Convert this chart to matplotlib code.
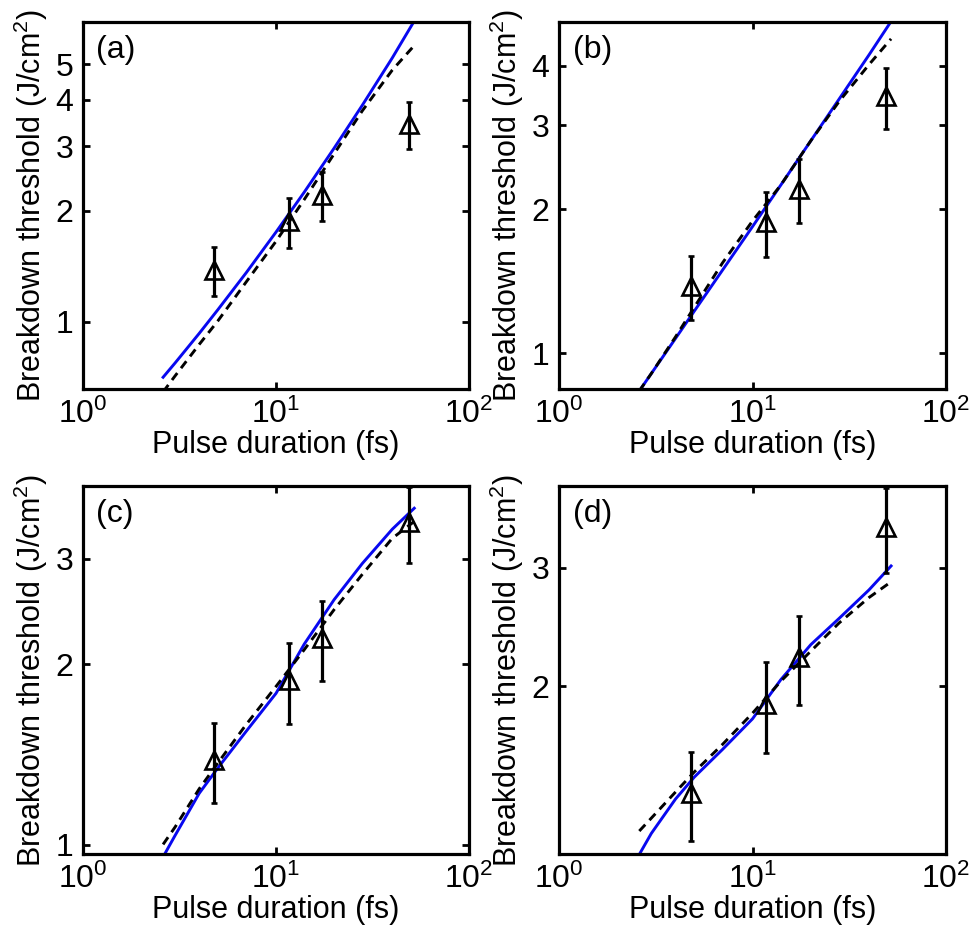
import matplotlib
matplotlib.use('Agg')
from matplotlib import pyplot as plt
from matplotlib.ticker import NullLocator, FixedLocator, FixedFormatter

plt.rcParams['font.family'] = ['Liberation Sans', 'DejaVu Sans']
plt.rcParams['mathtext.fontset'] = 'custom'
plt.rcParams['mathtext.rm'] = 'Liberation Sans'

# Measured breakdown thresholds (same in every panel)
pulse_exp = [4.8, 11.7, 17.4, 49.0]
thresh_exp = [1.385, 1.88, 2.21, 3.45]
thresh_err = [0.21, 0.29, 0.335, 0.5]

# Model curves, pulse durations in fs
pulse_model = [2.6, 3, 4, 5, 7, 10, 14, 20, 28, 40, 52]

solid_a = [0.708, 0.774, 0.931, 1.080, 1.359, 1.753, 2.249, 2.961, 3.872, 5.20, 6.55]
dashed_a = [0.646, 0.714, 0.869, 1.007, 1.283, 1.655, 2.148, 2.858, 3.74, 4.82, 5.62]

solid_b = [0.833, 0.906, 1.073, 1.224, 1.492, 1.840, 2.248, 2.783, 3.402, 4.212, 4.95]
dashed_b = [0.833, 0.906, 1.081, 1.247, 1.545, 1.891, 2.248, 2.783, 3.363, 4.02, 4.55]

solid_c = [0.955, 1.037, 1.219, 1.344, 1.546, 1.789, 2.161, 2.563, 2.945, 3.358, 3.64]
dashed_c = [1.002, 1.071, 1.240, 1.370, 1.587, 1.837, 2.115, 2.467, 2.825, 3.243, 3.46]

solid_d = [1.122, 1.206, 1.357, 1.463, 1.609, 1.787, 2.044, 2.305, 2.522, 2.782, 3.02]
dashed_d = [1.216, 1.271, 1.390, 1.489, 1.637, 1.822, 2.033, 2.254, 2.483, 2.71, 2.86]

panels = [
    ('(a)', solid_a, dashed_a, (0.658, 6.5), [1, 2, 3, 4, 5]),
    ('(b)', solid_b, dashed_b, (0.841, 4.93), [1, 2, 3, 4]),
    ('(c)', solid_c, dashed_c, (0.966, 3.96), [1, 2, 3]),
    ('(d)', solid_d, dashed_d, (1.124, 3.97), [2, 3]),
]

# axes boxes in figure fractions: left, bottom, width, height
boxes = [
    [0.0851, 0.5853, 0.396, 0.391],
    [0.5733, 0.5853, 0.397, 0.391],
    [0.0851, 0.0896, 0.396, 0.392],
    [0.5733, 0.0896, 0.397, 0.392],
]

fig = plt.figure(figsize=(9.75, 9.38), dpi=100)

for (tag, solid, dashed, ylim, yticks), box in zip(panels, boxes):
    ax = fig.add_axes(box)
    ax.errorbar(pulse_exp, thresh_exp, yerr=thresh_err, fmt='^', color='black',
                mfc='none', mec='black', ms=13, mew=1.9, elinewidth=2.3,
                capsize=2.2, capthick=2.3, zorder=3)
    ax.plot(pulse_model, solid, color='#0808f0', lw=2.1, zorder=2)
    ax.plot(pulse_model, dashed, color='black', lw=2.1, ls=(0, (3.0, 2.1)), zorder=2)

    ax.set_xscale('log')
    ax.set_yscale('log')
    ax.set_xlim(1, 100)
    ax.set_ylim(*ylim)

    # Format ticks like the original figure
    ax.xaxis.set_major_locator(FixedLocator([1, 10, 100]))
    ax.xaxis.set_minor_locator(NullLocator())
    ax.yaxis.set_major_locator(FixedLocator(yticks))
    ax.yaxis.set_major_formatter(FixedFormatter([str(t) for t in yticks]))
    ax.yaxis.set_minor_locator(NullLocator())
    ax.tick_params(axis='both', which='major', direction='in', length=5, width=2,
                   top=True, right=True, labelsize=23, pad=7)
    for side in ax.spines.values():
        side.set_linewidth(2.3)

    ax.set_xlabel('Pulse duration (fs)', fontsize=22, labelpad=0)
    ax.set_ylabel('Breakdown threshold (J/cm$^2$)', fontsize=22, labelpad=4)
    ax.text(0.035, 0.965, tag, transform=ax.transAxes, fontsize=23, va='top', ha='left')

fig.savefig('out.png', dpi=100)
